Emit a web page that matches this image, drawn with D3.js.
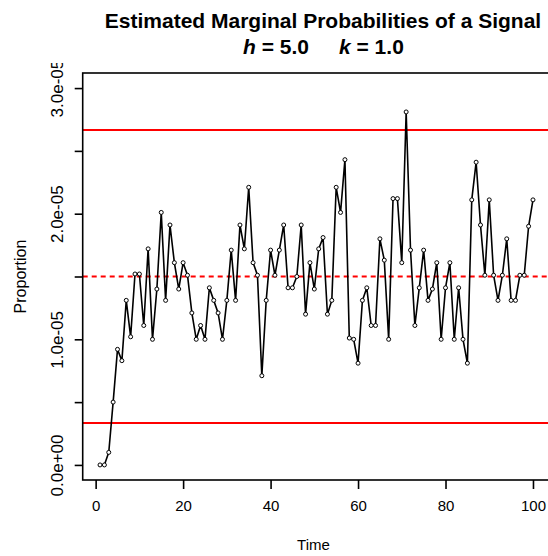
<!DOCTYPE html>
<html><head><meta charset="utf-8">
<script src="https://cdn.jsdelivr.net/npm/d3@7"></script>
<style>
body{margin:0;background:#fff;}
svg{display:block;}
text{font-family:"Liberation Sans",Arial,Helvetica,sans-serif;fill:#000;}
</style>
</head><body>
<svg id="chart" width="548" height="556"></svg>
<script>
// ---- data ----
const titleLine1 = "Estimated Marginal Probabilities of a Signal";
const paramH = "5.0";
const paramK = "1.0";
const xLabel = "Time";
const yLabel = "Proportion";

// time points 1..100
const times = [1,2,3,4,5,6,7,8,9,10,11,12,13,14,15,16,17,18,19,20,
  21,22,23,24,25,26,27,28,29,30,31,32,33,34,35,36,37,38,39,40,
  41,42,43,44,45,46,47,48,49,50,51,52,53,54,55,56,57,58,59,60,
  61,62,63,64,65,66,67,68,69,70,71,72,73,74,75,76,77,78,79,80,
  81,82,83,84,85,86,87,88,89,90,91,92,93,94,95,96,97,98,99,100];

// estimated proportions, in units of 1e-5
const proportionE5 = [
  0.00,0.00,0.10,0.50,0.92,0.83,1.31,1.02,1.52,1.52,
  1.11,1.72,1.00,1.40,2.01,1.31,1.91,1.61,1.40,1.61,
  1.51,1.21,1.00,1.11,1.00,1.41,1.31,1.21,1.00,1.31,
  1.71,1.31,1.91,1.72,2.21,1.61,1.51,0.71,1.31,1.71,
  1.51,1.71,1.91,1.41,1.41,1.50,1.91,1.20,1.61,1.40,
  1.72,1.81,1.20,1.31,2.21,2.01,2.43,1.01,1.00,0.81,
  1.31,1.41,1.11,1.11,1.80,1.63,1.00,2.12,2.12,1.61,
  2.81,1.71,1.11,1.41,1.71,1.31,1.40,1.61,1.00,1.41,
  1.61,1.00,1.41,1.00,0.81,2.11,2.41,1.91,1.51,2.11,
  1.51,1.31,1.51,1.80,1.31,1.31,1.51,1.51,1.90,2.11];

const centerLine = 1.5e-5;
const upperLimit = 2.667e-5;
const lowerLimit = 0.333e-5;

const xTicks = [0,20,40,60,80,100];
const yTicks = [0,0.5e-5,1.0e-5,1.5e-5,2.0e-5,2.5e-5,3.0e-5];
const yTickLabels = ["0.0e+00","","1.0e-05","","2.0e-05","","3.0e-05"];

const data = times.map((t,i)=>({t, v: proportionE5[i]*1e-5}));

// ---- layout ----
const svg = d3.select("#chart");
const L = 82.7, R = 550.3, T = 73, B = 480;
const x = d3.scaleLinear().domain([-2.96, 103.96]).range([L, R]);
const y = d3.scaleLinear().domain([-0.12e-5, 3.12e-5]).range([B, T]);

// title
svg.append("text").attr("x", 323).attr("y", 28).attr("text-anchor","middle")
  .style("font-size","21px").style("font-weight","bold").text(titleLine1);
const t1 = svg.append("text").attr("x", 243).attr("y", 54).style("font-size","21px").style("font-weight","bold");
t1.append("tspan").style("font-style","italic").text("h");
t1.append("tspan").text(" = " + paramH);
const t2 = svg.append("text").attr("x", 339).attr("y", 54).style("font-size","21px").style("font-weight","bold");
t2.append("tspan").style("font-style","italic").text("k");
t2.append("tspan").text(" = " + paramK);

// control lines
const lines = svg.append("g");
[upperLimit, lowerLimit].forEach(v=>{
  lines.append("line").attr("x1", L).attr("x2", 548).attr("y1", y(v)).attr("y2", y(v))
    .attr("stroke","#ff0000").attr("stroke-width",2);
});
lines.append("line").attr("x1", L).attr("x2", 548).attr("y1", y(centerLine)).attr("y2", y(centerLine))
  .attr("stroke","#ff0000").attr("stroke-width",2).attr("stroke-dasharray","5,4");

// series
svg.append("path").datum(data)
  .attr("fill","none").attr("stroke","#000").attr("stroke-width",1.6)
  .attr("d", d3.line().x(d=>x(d.t)).y(d=>y(d.v)));
svg.append("g").selectAll("circle").data(data).join("circle")
  .attr("cx", d=>x(d.t)).attr("cy", d=>y(d.v)).attr("r", 2)
  .attr("fill","#fff").attr("stroke","#000").attr("stroke-width",1);

// box
svg.append("rect").attr("x", L).attr("y", T).attr("width", R-L).attr("height", B-T)
  .attr("fill","none").attr("stroke","#000").attr("stroke-width",1.6);

// x axis
const gx = svg.append("g").attr("transform",`translate(0,${B})`)
  .call(d3.axisBottom(x).tickValues(xTicks).tickSize(9).tickFormat(d3.format("d")));
gx.select(".domain").remove();
gx.selectAll("line").attr("stroke","#000").attr("stroke-width",1.6);
gx.selectAll("text").attr("y", 26).attr("dy","0.35em").style("font-size","15px");

// y axis
svg.append("defs").append("clipPath").attr("id","yclip")
  .append("rect").attr("x",0).attr("y",63).attr("width",548).attr("height",493);
const gyOuter = svg.append("g").attr("clip-path","url(#yclip)");
const gy = gyOuter.append("g").attr("transform",`translate(${L},0)`)
  .call(d3.axisLeft(y).tickValues(yTicks).tickSize(8).tickFormat((d,i)=>yTickLabels[i]));
gy.select(".domain").remove();
gy.selectAll("line").attr("stroke","#000").attr("stroke-width",1.6);
gy.selectAll("text").attr("x",0).attr("dy","0.35em").attr("text-anchor","middle")
  .attr("transform","translate(-26,0) rotate(-90)").style("font-size","17px");

// axis titles
svg.append("text").attr("x", (L+R)/2 - 3).attr("y", 545).attr("dy","0.35em")
  .attr("text-anchor","middle").style("font-size","15px").text(xLabel);
svg.append("text").attr("transform",`translate(20,${(T+B)/2}) rotate(-90)`).attr("dy","0.35em")
  .attr("text-anchor","middle").style("font-size","16px").text(yLabel);
</script>
</body></html>
